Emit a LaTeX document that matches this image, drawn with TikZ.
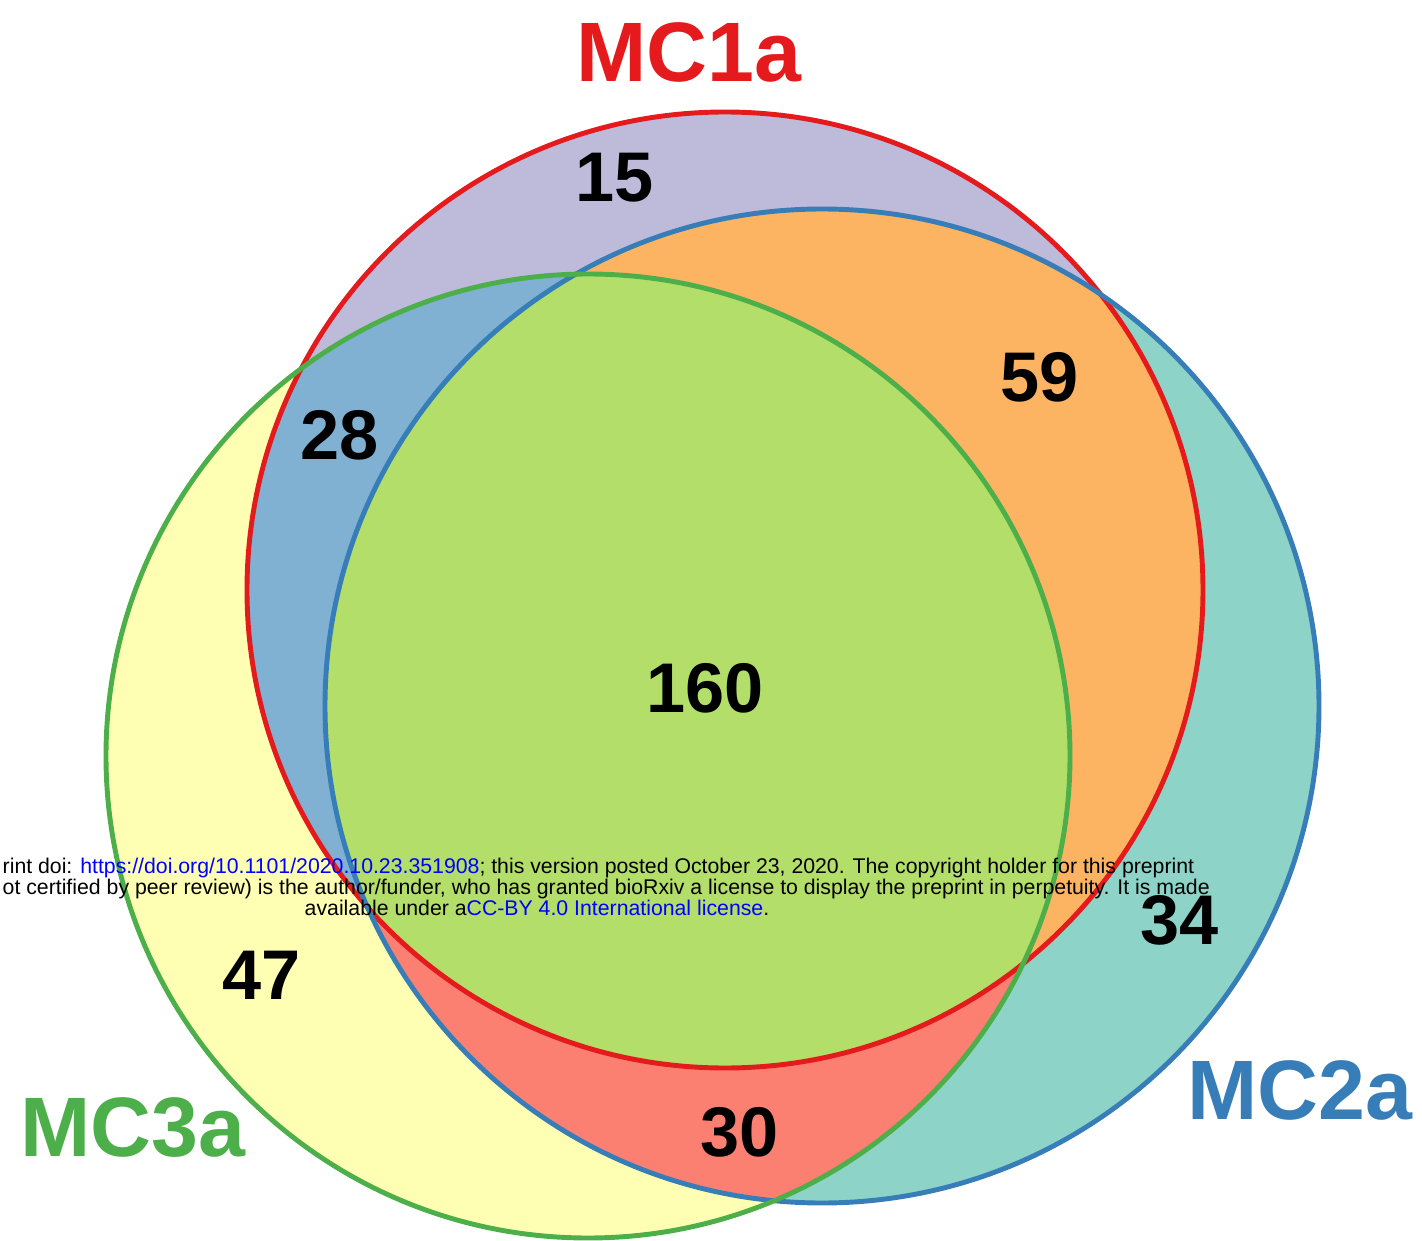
\documentclass[tikz,border=0pt]{standalone}
\usepackage{fontspec}
\setmainfont{Liberation Sans}
\definecolor{onlyA}{HTML}{BEBADA}
\definecolor{onlyB}{HTML}{8DD3C7}
\definecolor{onlyC}{HTML}{FFFFB3}
\definecolor{capAB}{HTML}{FDB462}
\definecolor{capAC}{HTML}{80B1D3}
\definecolor{capBC}{HTML}{FB8072}
\definecolor{capABC}{HTML}{B3DE69}
\definecolor{lineA}{HTML}{E41A1C}
\definecolor{lineB}{HTML}{377EB8}
\definecolor{lineC}{HTML}{4DAF4A}
\definecolor{linkblue}{RGB}{0,0,255}

\begin{document}
\begin{tikzpicture}[
  ring/.style={line width=1.4pt},
  count/.style={font=\fontsize{20}{20}\selectfont\bfseries},
  setname/.style={font=\fontsize{24}{24}\selectfont\bfseries},
  stamp/.style={font=\fontsize{6.05}{6.05}\selectfont, inner sep=0pt}
]
\useasboundingbox (0,0) rectangle (14.22,12.40);

% Centres
\coordinate (cA) at (7.25,6.50);
\coordinate (cB) at (8.22,5.34);
\coordinate (cC) at (5.88,4.84);

% Single sets
\fill[onlyA] (cA) circle (4.78);
\fill[onlyB] (cB) circle (4.97);
\fill[onlyC] (cC) circle (4.82);

% Overlaps
\begin{scope}
  \clip (cA) circle (4.78);
  \fill[capAB] (cB) circle (4.97);
  \fill[capAC] (cC) circle (4.82);
\end{scope}
\begin{scope}
  \clip (cB) circle (4.97);
  \fill[capBC] (cC) circle (4.82);
  \clip (cA) circle (4.78);
  \fill[capABC] (cC) circle (4.82);
\end{scope}

% Outlines
\draw[ring, lineA] (cA) circle (4.78);
\draw[ring, lineB] (cB) circle (4.97);
\draw[ring, lineC] (cC) circle (4.82);

% Set names
\node[setname, text=lineA] (mc1a) at (6.89,11.88) {MC1a};
\node[setname, text=lineB] (mc2a) at (13.00,1.50) {MC2a};
\node[setname, text=lineC] (mc3a) at (1.33,1.12) {MC3a};

% Counts
\node[count] (n15) at (6.15,10.62) {15};
\node[count] (n59) at (10.40,8.63) {59};
\node[count] (n28) at (3.40,8.05) {28};
\node[count] (n160) at (7.05,5.52) {160};
\node[count] (n34) at (11.80,3.20) {34};
\node[count] (n47) at (2.62,2.65) {47};
\node[count] (n30) at (7.40,1.08) {30};

% Preprint stamp
\node[stamp, anchor=base west] (stamp1) at (0.02,3.67) {rint doi: \textcolor{linkblue}{https://doi.org/10.1101/2020.10.23.351908}; this version posted October 23, 2020. The copyright holder for this preprint};
\node[stamp, anchor=base west] (stamp2) at (0.02,3.46) {ot certified by peer review) is the author/funder, who has granted bioRxiv a license to display the preprint in perpetuity. It is made};
\node[stamp, anchor=base] (stamp3) at (5.37,3.25) {available under a\textcolor{linkblue}{CC-BY 4.0 International license}.};

\end{tikzpicture}
\end{document}
